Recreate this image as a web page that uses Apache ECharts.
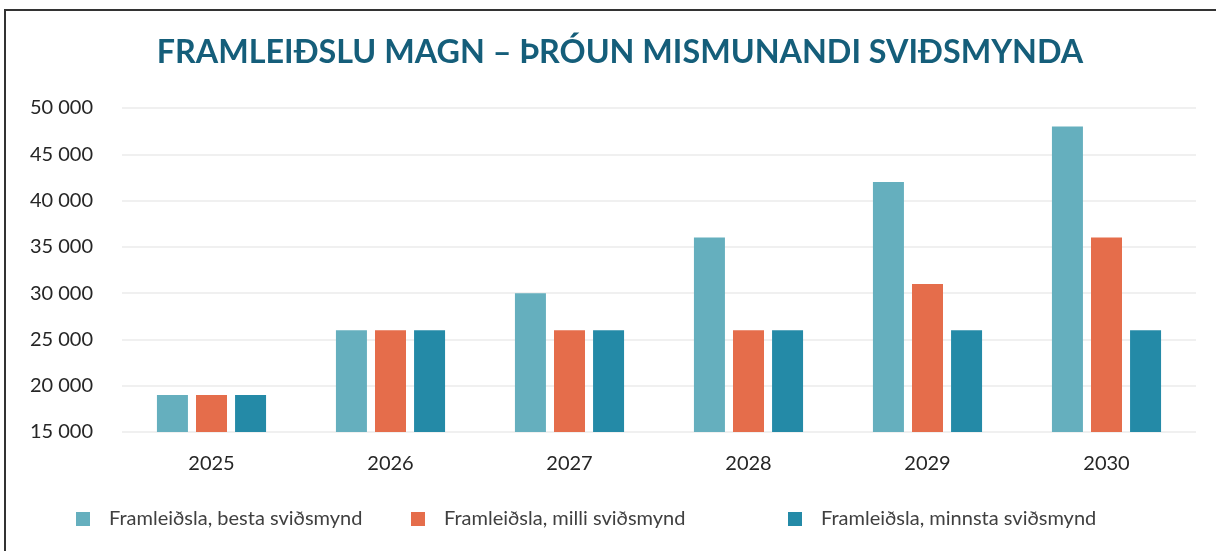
<!DOCTYPE html>
<html>
<head>
    <meta charset="utf-8">
    <title>Framleiðslu magn</title>
    <script src="https://cdn.jsdelivr.net/npm/echarts@6/dist/echarts.min.js"></script>
    <style>
        html, body { margin: 0; padding: 0; background: #fff; }
        #main { width: 1216px; height: 551px; }
    </style>
</head>
<body>
<div id="main"></div>
<script>
    // gögn lesin af myndinni
    var years = ['2025', '2026', '2027', '2028', '2029', '2030'];
    var seriesNames = [
        'Framleiðsla, besta sviðsmynd',
        'Framleiðsla, milli sviðsmynd',
        'Framleiðsla, minnsta sviðsmynd'
    ];
    var besta = [19000, 26000, 30000, 36000, 42000, 48000];
    var milli = [19000, 26000, 26000, 26000, 31000, 36000];
    var minnsta = [19000, 26000, 26000, 26000, 26000, 26000];
    var colors = ['#65afbe', '#e56d4b', '#248aa7'];

    var font = 'Lato, "Open Sans", sans-serif';
    var myChart = echarts.init(document.getElementById('main'));

    function legendAt(i, left) {
        return {
            data: [seriesNames[i]],
            left: left,
            top: 509,
            padding: 0,
            itemWidth: 14,
            itemHeight: 14,
            icon: 'rect',
            textStyle: { fontFamily: font, fontSize: 20, color: '#404040', padding: [0, 0, 0, 14] }
        };
    }

    var option = {
        backgroundColor: '#fff',
        color: colors,
        title: {
            text: 'FRAMLEIÐSLU MAGN – ÞRÓUN MISMUNANDI SVIÐSMYNDA',
            left: 615,
            textAlign: 'center',
            top: 32,
            textStyle: { fontFamily: font, fontSize: 32.3, fontWeight: 'bold', color: '#155e7a' }
        },
        legend: [legendAt(0, 76), legendAt(1, 411), legendAt(2, 788)],
        grid: { left: 122, right: 20, top: 108, bottom: 119 },
        xAxis: {
            type: 'category',
            data: years,
            axisLine: { show: false },
            axisTick: { show: false },
            axisLabel: { fontFamily: font, fontSize: 20, color: '#262626', margin: 22 }
        },
        yAxis: {
            type: 'value',
            min: 15000,
            max: 50000,
            interval: 5000,
            axisLine: { show: false },
            axisTick: { show: false },
            splitLine: { lineStyle: { color: '#ebebeb', width: 1.5 } },
            axisLabel: {
                fontFamily: font, fontSize: 20, color: '#262626', margin: 29,
                formatter: function (v) { return String(v).replace(/\B(?=(\d{3})+(?!\d))/g, ' '); }
            }
        },
        graphic: [{
            type: 'polyline',
            shape: { points: [[5, 560], [5, 10], [1230, 10]] },
            style: { stroke: '#333', lineWidth: 2, fill: null }
        }],
        series: [
            { name: seriesNames[0], type: 'bar', data: besta, barWidth: 31, barGap: '26%' },
            { name: seriesNames[1], type: 'bar', data: milli, barWidth: 31, barGap: '26%' },
            { name: seriesNames[2], type: 'bar', data: minnsta, barWidth: 31, barGap: '26%' }
        ]
    };
    myChart.setOption(option);
</script>
</body>
</html>
